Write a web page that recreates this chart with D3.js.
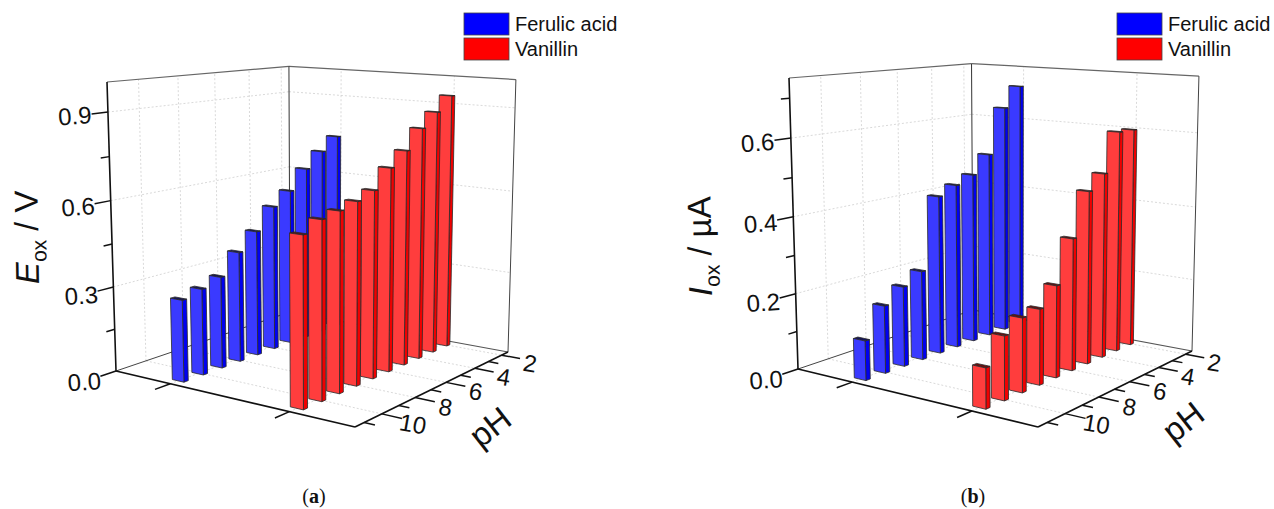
<!DOCTYPE html>
<html>
<head>
<meta charset="utf-8">
<script src="https://d3js.org/d3.v7.min.js"></script>
<style>
  body { margin: 0; background: #fff; }
  text { font-family: "Liberation Sans", Arial, sans-serif; fill: #111; }
</style>
</head>
<body>
<div id="chart"></div>
<script>
var compounds = ["Ferulic acid", "Vanillin"];
var phValues = [2, 3, 4, 5, 6, 7, 8, 9, 10, 11];
var phLabels = [2, 4, 6, 8, 10];
var phMinor = [3, 5, 7, 9, 11];

var ferulicE = [0.747, 0.70, 0.645, 0.575, 0.53, 0.455, 0.396, 0.326, 0.303, 0.285];
var vanillinE = [0.933, 0.882, 0.833, 0.765, 0.717, 0.653, 0.63, 0.613, 0.60, 0.567];
var ferulicI = [0.696, 0.64, 0.516, 0.468, 0.449, 0.428, 0.239, 0.212, 0.177, 0.103];
var vanillinI = [0.599, 0.60, 0.497, 0.46, 0.348, 0.24, 0.195, 0.189, 0.161, 0.101];

var eTicks = [0, 0.3, 0.6, 0.9];
var eMinor = [0.15, 0.45, 0.75];
var iTicks = [0, 0.2, 0.4, 0.6];
var iMinor = [0.1, 0.3, 0.5, 0.7];

var width = 1274, height = 509;

var svg = d3.select("#chart").append("svg")
  .attr("width", width)
  .attr("height", height)
  .style("display", "block");

// perspective camera worked out from the corners of the box: floor homography plus a vertical vanishing point
function makeProjection(c) {
  var sx = c.A[0] - c.F[0] + c.R[0] - c.B[0], sy = c.A[1] - c.F[1] + c.R[1] - c.B[1];
  var dx1 = c.F[0] - c.R[0], dy1 = c.F[1] - c.R[1];
  var dx2 = c.B[0] - c.R[0], dy2 = c.B[1] - c.R[1];
  var det = dx1 * dy2 - dx2 * dy1;
  var g = (sx * dy2 - dx2 * sy) / det;
  var h = (dx1 * sy - sx * dy1) / det;
  var a = c.F[0] - c.A[0] + g * c.F[0], b = c.B[0] - c.A[0] + h * c.B[0];
  var d = c.F[1] - c.A[1] + g * c.F[1], e = c.B[1] - c.A[1] + h * c.B[1];

  var m1 = (c.AT[0] - c.A[0]) / (c.AT[1] - c.A[1]);
  var m2 = (c.RT[0] - c.R[0]) / (c.RT[1] - c.R[1]);
  var vy = (c.R[0] - c.A[0] + m1 * c.A[1] - m2 * c.R[1]) / (m1 - m2);
  var vx = c.A[0] + m1 * (vy - c.A[1]);
  var al = (c.AT[1] - c.A[1]) / (vy - c.AT[1]);

  return function(u, v, w) {
    var z = g * u + h * v + al * w + 1;
    return [(a * u + b * v + al * vx * w + c.A[0]) / z,
            (d * u + e * v + al * vy * w + c.A[1]) / z];
  };
}

var line = d3.line();

function drawChart(opt) {
  var g = svg.append("g");
  var p = makeProjection(opt.corners);

  var uScale = d3.scaleBand().domain(compounds).range([0, 1]);
  var vScale = d3.scaleLinear().domain([11.5, 1.5]).range([0, 1]);
  var wScale = d3.scaleLinear().domain([0, opt.yMax]).range([0, 1]);

  function seg(parent, a, b, color, sw, dash) {
    parent.append("path")
      .attr("d", line([a, b]))
      .attr("fill", "none")
      .attr("stroke", color)
      .attr("stroke-width", sw)
      .attr("stroke-dasharray", dash || null);
  }

  // dotted grid on the walls and floor
  var grid = g.append("g");
  var gc = "#cfcfcf", gd = "2,2";
  opt.ticks.slice(1).forEach(function(t) {
    var w = wScale(t);
    seg(grid, p(0, 0, w), p(0, 1, w), gc, 0.8, gd);
    seg(grid, p(0, 1, w), p(1, 1, w), gc, 0.8, gd);
  });
  phLabels.forEach(function(ph) {
    var v = vScale(ph);
    seg(grid, p(0, v, 0), p(0, v, 1), gc, 0.8, gd);
    seg(grid, p(0, v, 0), p(1, v, 0), gc, 0.8, gd);
  });
  compounds.forEach(function(name) {
    var u = uScale(name) + uScale.bandwidth() / 2;
    seg(grid, p(u, 1, 0), p(u, 1, 1), gc, 0.8, gd);
    seg(grid, p(u, 0, 0), p(u, 1, 0), gc, 0.8, gd);
  });

  // box edges behind the bars
  var frame = g.append("g");
  seg(frame, p(0, 0, 1), p(0, 1, 1), "#666", 1.2);
  seg(frame, p(0, 1, 1), p(1, 1, 1), "#666", 1.2);
  seg(frame, p(0, 1, 0), p(0, 1, 1), "#333", 1);
  seg(frame, p(1, 1, 0), p(1, 1, 1), "#444", 1);
  seg(frame, p(0, 0, 0), p(0, 1, 0), "#444", 1);
  seg(frame, p(0, 1, 0), p(1, 1, 0), "#555", 1.2);

  // bars, from the back row to the front so nearer ones cover farther ones
  var bu = 0.026, bv = 0.011;
  var series = [
    {name: compounds[0], values: opt.first, face: "#3a3aff", side: "#0000f0", top: "#15155a"},
    {name: compounds[1], values: opt.second, face: "#ff3d3d", side: "#f00000", top: "#6a1010"}
  ];
  series.forEach(function(s) {
    var uc = uScale(s.name) + uScale.bandwidth() / 2;
    var rows = phValues.map(function(ph, i) { return {ph: ph, value: s.values[i]}; });
    var bars = g.append("g").selectAll("g")
      .data(rows)
      .enter()
      .append("g");

    function face(sel, fill, pts) {
      sel.append("path")
        .attr("d", function(d) { return line(pts(vScale(d.ph), wScale(d.value))) + "Z"; })
        .attr("fill", fill)
        .attr("stroke", "#2a2a2a")
        .attr("stroke-width", 0.8)
        .attr("stroke-linejoin", "round");
    }
    face(bars, s.side, function(v, w) {
      return [p(uc + bu, v - bv, 0), p(uc + bu, v + bv, 0), p(uc + bu, v + bv, w), p(uc + bu, v - bv, w)];
    });
    face(bars, s.top, function(v, w) {
      return [p(uc - bu, v - bv, w), p(uc + bu, v - bv, w), p(uc + bu, v + bv, w), p(uc - bu, v + bv, w)];
    });
    face(bars, s.face, function(v, w) {
      return [p(uc - bu, v - bv, 0), p(uc + bu, v - bv, 0), p(uc + bu, v - bv, w), p(uc - bu, v - bv, w)];
    });
  });

  // black axes
  var axes = g.append("g");
  seg(axes, p(0, 0, 0), p(0, 0, 1), "#111", 1.6);
  seg(axes, p(0, 0, 0), p(1, 0, 0), "#111", 1.6);
  seg(axes, p(1, 0, 0), p(1, 1, 0), "#111", 1.6);

  opt.ticks.forEach(function(t) { seg(axes, p(0, 0, wScale(t)), p(0, -0.075, wScale(t)), "#111", 1.5); });
  opt.minor.forEach(function(t) { seg(axes, p(0, 0, wScale(t)), p(0, -0.04, wScale(t)), "#111", 1.5); });
  compounds.forEach(function(name) {
    var u = uScale(name) + uScale.bandwidth() / 2;
    seg(axes, p(u, 0, 0), p(u, -0.075, 0), "#111", 1.5);
  });
  phLabels.forEach(function(ph) { seg(axes, p(1, vScale(ph), 0), p(1.075, vScale(ph), 0), "#111", 1.5); });
  phMinor.forEach(function(ph) { seg(axes, p(1, vScale(ph), 0), p(1.04, vScale(ph), 0), "#111", 1.5); });

  // tick labels
  g.append("g").selectAll("text")
    .data(opt.ticks)
    .enter()
    .append("text")
    .attr("transform", function(t) {
      var q = p(0, -0.15, wScale(t));
      return "translate(" + q[0] + "," + q[1] + ") rotate(-4)";
    })
    .attr("text-anchor", "middle")
    .attr("dominant-baseline", "central")
    .style("font-size", "24px")
    .text(function(t) { return t.toFixed(1); });

  g.append("g").selectAll("text")
    .data(phLabels)
    .enter()
    .append("text")
    .attr("transform", function(ph) {
      var q = p(1.115, vScale(ph), 0);
      return "translate(" + q[0] + "," + (q[1] + 3) + ") rotate(10)";
    })
    .attr("text-anchor", "middle")
    .attr("dominant-baseline", "central")
    .style("font-size", "24px")
    .text(function(ph) { return ph; });

  // y axis title
  var yt = g.append("text")
    .attr("transform", "translate(" + opt.yTitle[0] + "," + opt.yTitle[1] + ") rotate(-91)")
    .style("font-size", "33px");
  yt.append("tspan").style("font-style", "italic").text(opt.symbol);
  yt.append("tspan").attr("dy", 8).style("font-size", "21px").text("ox");
  yt.append("tspan").attr("dy", -8).text(" / " + opt.unit);

  // pH title
  g.append("text")
    .attr("transform", "translate(" + opt.xTitle[0] + "," + opt.xTitle[1] + ") rotate(-38)")
    .attr("text-anchor", "middle")
    .attr("dominant-baseline", "central")
    .style("font-size", "33px")
    .text("pH");

  // legend
  var legend = g.append("g")
    .attr("transform", "translate(" + opt.legend[0] + ",13)");
  legend.selectAll("rect")
    .data(compounds)
    .enter()
    .append("rect")
    .attr("x", 0)
    .attr("y", function(d, i) { return i * 25; })
    .attr("width", 45)
    .attr("height", 22)
    .attr("fill", function(d, i) { return i ? "#ff0000" : "#0000ff"; })
    .attr("stroke", "#444")
    .attr("stroke-width", 0.8);
  legend.selectAll("text")
    .data(compounds)
    .enter()
    .append("text")
    .attr("x", 51)
    .attr("y", function(d, i) { return 11 + i * 25; })
    .attr("dominant-baseline", "central")
    .style("font-size", "20px")
    .text(function(d) { return d; });

  // caption
  var cap = g.append("text")
    .attr("x", opt.caption[0])
    .attr("y", 503)
    .attr("text-anchor", "middle")
    .style("font-family", '"Liberation Serif", serif')
    .style("font-size", "20px");
  cap.append("tspan").text("(");
  cap.append("tspan").style("font-weight", "bold").text(opt.captionLetter);
  cap.append("tspan").text(")");
}

drawChart({
  corners: {A: [116, 371], F: [355, 427], R: [508, 352], B: [290, 312], AT: [107, 82], RT: [516, 76]},
  yMax: 1.0, ticks: eTicks, minor: eMinor,
  first: ferulicE, second: vanillinE,
  symbol: "E", unit: "V",
  yTitle: [39, 284], xTitle: [490, 427], legend: [464, 0], caption: [314, 0], captionLetter: "a"
});

drawChart({
  corners: {A: [798, 369], F: [1038, 427], R: [1192, 351], B: [973, 310], AT: [789, 78], RT: [1199, 73]},
  yMax: 0.75, ticks: iTicks, minor: iMinor,
  first: ferulicI, second: vanillinI,
  symbol: "I", unit: "\u00b5A",
  yTitle: [712, 296], xTitle: [1183, 422], legend: [1117, 0], caption: [973, 0], captionLetter: "b"
});
</script>
</body>
</html>
